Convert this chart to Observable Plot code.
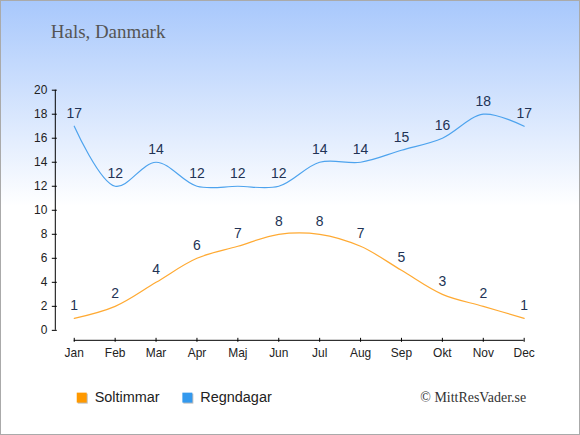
<!DOCTYPE html>
<html><head><meta charset="utf-8">
<script src="https://cdn.jsdelivr.net/npm/d3@7"></script>
<script src="https://cdn.jsdelivr.net/npm/@observablehq/plot@0.6"></script>
<style>
html,body{margin:0;padding:0;}
#wrap{position:relative;width:580px;height:435px;box-sizing:border-box;border:1px solid #aaa;
background:linear-gradient(to bottom,#a8c8fc 0px,#ffffff 205px,#ffffff 435px);overflow:hidden;}
#wrap svg{position:absolute;left:-1px;top:-1px;}
</style></head>
<body><div id="wrap"></div>
<script>
const months = ["Jan","Feb","Mar","Apr","Maj","Jun","Jul","Aug","Sep","Okt","Nov","Dec"];
const soltimmar = [1,2,4,6,7,8,8,7,5,3,2,1];
const regndagar = [17,12,14,12,12,12,14,14,15,16,18,17];
const yTicks = [0,2,4,6,8,10,12,14,16,18,20];
const seriesNames = ["Soltimmar","Regndagar"];
const seriesColors = ["#ff9900","#3399ee"];
const lineColors = ["#ffaa33","#4da3ee"];

const sol = soltimmar.map((v,i)=>({i, v}));
const reg = regndagar.map((v,i)=>({i, v}));

const chart = Plot.plot({
  width: 580, height: 435,
  marginLeft: 74, marginRight: 54.5, marginTop: 90, marginBottom: 104,
  style: {background: "transparent", fontFamily: "'Liberation Sans', Arial, sans-serif", fontSize: "12px", color: "#222", overflow: "visible"},
  x: {domain: [0, 11]},
  y: {domain: [0, 20]},
  marks: [
    Plot.ruleX([0], {y1: 0, y2: 20, dx: -19, stroke: "#000", strokeWidth: 1}),
    Plot.ruleY([0], {x1: 0, x2: 11, dy: 10, stroke: "#000", strokeWidth: 1}),
    Plot.axisY({ticks: yTicks, tickSize: 5, dx: -17, tickPadding: 5, tickFormat: d => d, stroke: "#000", fill: "#222", label: null}),
    Plot.axisX({ticks: d3.range(12), tickSize: 4, dy: 8, tickPadding: 6, tickFormat: i => months[i], stroke: "#000", fill: "#222", label: null}),
    Plot.line(sol, {x: "i", y: "v", curve: "catmull-rom", stroke: lineColors[0], strokeWidth: 1.2}),
    Plot.line(reg, {x: "i", y: "v", curve: "catmull-rom", stroke: lineColors[1], strokeWidth: 1.2}),
    Plot.text(sol, {x: "i", y: "v", text: "v", dy: -13, fill: "#223355", fontSize: 14}),
    Plot.text(reg, {x: "i", y: "v", text: "v", dy: -13, fill: "#223355", fontSize: 14})
  ]
});
document.getElementById("wrap").appendChild(chart);

const svg = d3.select(chart);
svg.append("text").attr("x", 51).attr("y", 38).attr("text-anchor", "start").text("Hals, Danmark")
  .attr("font-family", "'Liberation Serif', serif").attr("font-size", 19).attr("fill", "#555");
const legendX = [77, 183];
seriesNames.forEach((name, k) => {
  svg.append("rect").attr("x", legendX[k] + 1).attr("y", 395).attr("width", 10).attr("height", 10).attr("fill", "#bbb");
  svg.append("rect").attr("x", legendX[k]).attr("y", 394).attr("width", 10).attr("height", 10).attr("fill", seriesColors[k]);
  svg.append("text").attr("x", legendX[k] + 18).attr("y", 403).attr("text-anchor", "start").text(name)
    .attr("font-family", "'Liberation Sans', Arial, sans-serif").attr("font-size", 14.5).attr("fill", "#222");
});
svg.append("text").attr("x", 528).attr("y", 403).attr("text-anchor", "end").text("© MittResVader.se")
  .attr("font-family", "'Liberation Serif', serif").attr("font-size", 14).attr("fill", "#333");
</script></body></html>
